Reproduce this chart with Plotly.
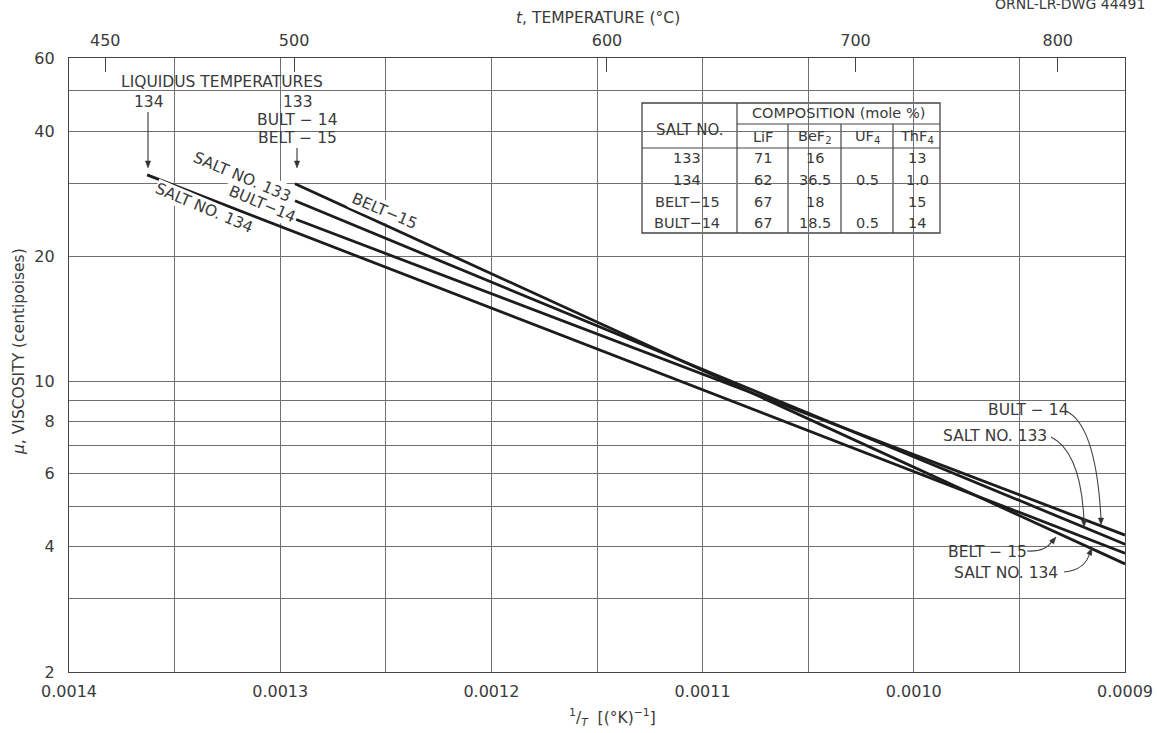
import math
import plotly.graph_objects as go

# ---------------- data ----------------
salt_names = ["SALT NO. 133", "SALT NO. 134", "BELT-15", "BULT-14"]
inv_T_start = [0.001293, 0.001363, 0.001293, 0.001293]   # 1/T (1/K) at liquidus
inv_T_end = [0.0009, 0.0009, 0.0009, 0.0009]
mu_start = [27.2, 31.4, 29.9, 24.6]                     # viscosity, centipoises
mu_end = [4.06, 3.86, 3.64, 4.27]

x_major = [0.0014, 0.0013, 0.0012, 0.0011, 0.0010, 0.0009]
x_major_text = ["0.0014", "0.0013", "0.0012", "0.0011", "0.0010", "0.0009"]
x_half = [0.00135, 0.00125, 0.00115, 0.00105, 0.00095]
y_major = [2, 4, 6, 8, 10, 20, 40, 60]
y_minor = [3, 5, 7, 9, 30, 50]
temp_C = [450, 500, 600, 700, 800]

table_salt = ["133", "134", "BELT−15", "BULT−14"]
table_LiF = ["71", "62", "67", "67"]
table_BeF2 = ["16", "36.5", "18", "18.5"]
table_UF4 = ["", "0.5", "", "0.5"]
table_ThF4 = ["13", "1.0", "15", "14"]

# ---------------- layout helpers ----------------
W, H = 1157, 733
L, R, T, B = 69, 1125, 58, 672
FONT = "DejaVu Sans"
TXT = "#3a3a3a"
GRID = "#707070"
LBL = 15.5


def P(px, py):
    return (px - L) / (R - L), (B - py) / (B - T)


fig = go.Figure()
for i, name in enumerate(salt_names):
    fig.add_trace(go.Scatter(
        x=[inv_T_start[i], inv_T_end[i]], y=[mu_start[i], mu_end[i]],
        mode="lines", name=name, showlegend=False,
        line=dict(color="#1c1c1c", width=2.8), hoverinfo="skip"))

temp_pos = [1.0 / (t + 273.15) for t in temp_C]
fig.add_trace(go.Scatter(x=temp_pos, y=[10] * len(temp_pos), xaxis="x2",
                         mode="markers", marker=dict(opacity=0), showlegend=False,
                         hoverinfo="skip"))

annotations = []
shapes = []


def ann(text, px, py, size=LBL, angle=0, bg=None, xanchor="center", pad=1):
    x, y = P(px, py)
    d = dict(text=text, x=x, y=y, xref="paper", yref="paper", showarrow=False,
             xanchor=xanchor, yanchor="middle", textangle=angle,
             font=dict(family=FONT, size=size, color=TXT))
    if bg:
        d["bgcolor"] = bg
        d["borderpad"] = pad
    annotations.append(d)


def arrow(tip, tail, width=1.1, head=7.0, half=2.6, draw_shaft=True):
    dx, dy = tip[0] - tail[0], tip[1] - tail[1]
    n = math.hypot(dx, dy)
    ux, uy = dx / n, dy / n
    px_, py_ = -uy, ux
    bx, by = tip[0] - head * ux, tip[1] - head * uy
    if draw_shaft:
        a = P(*tail)
        b = P(bx, by)
        shapes.append(dict(type="line", xref="paper", yref="paper",
                           x0=a[0], y0=a[1], x1=b[0], y1=b[1],
                           line=dict(color="#333333", width=width), layer="above"))
    p1 = P(*tip)
    p2 = P(bx + half * px_, by + half * py_)
    p3 = P(bx - half * px_, by - half * py_)
    path = f"M {p1[0]},{p1[1]} L {p2[0]},{p2[1]} L {p3[0]},{p3[1]} Z"
    shapes.append(dict(type="path", xref="paper", yref="paper", path=path,
                       fillcolor="#333333", line=dict(color="#333333", width=0.5),
                       layer="above"))


def white_rect(x0, y0, x1, y1):
    a, b = P(x0, y1)
    c, d = P(x1, y0)
    shapes.append(dict(type="rect", xref="paper", yref="paper", x0=a, y0=b, x1=c, y1=d,
                       fillcolor="white", line=dict(width=0), layer="between"))


def seg(x0, y0, x1, y1, w=1.2):
    a, b = P(x0, y0)
    c, d = P(x1, y1)
    shapes.append(dict(type="line", xref="paper", yref="paper", x0=a, y0=b, x1=c, y1=d,
                       line=dict(color="#444444", width=w), layer="between"))


def curve(p0, pc, p1):
    a = P(*p0)
    b = P(*pc)
    c = P(*p1)
    path = f"M {a[0]},{a[1]} Q {b[0]},{b[1]} {c[0]},{c[1]}"
    shapes.append(dict(type="path", xref="paper", yref="paper", path=path,
                       line=dict(color="#444444", width=1.1), layer="above"))


# gaps in the grid behind the liquidus labels
white_rect(100, 70, 347, 111)
white_rect(232, 111, 350, 150)

ann("LIQUIDUS TEMPERATURES", 222, 82)
ann("134", 149, 102)
ann("133", 298, 102)
ann("BULT − 14", 297, 120)
ann("BELT − 15", 297, 138)
arrow((148, 168), (148, 112))
arrow((297, 168), (297, 148))

# labels along the lines
ann("SALT NO. 133", 242, 177, angle=23, bg="white", pad=2)
ann("BULT−14", 262, 204, angle=23, bg="white", pad=1)
ann("SALT NO. 134", 204, 208, angle=23, bg="white", pad=0)
ann("BELT−15", 384, 211, angle=23, bg="white", pad=1)

# right-hand labels with leaders
white_rect(925, 398, 1080, 446)
white_rect(935, 540, 1070, 584)
ann("BULT − 14", 1028, 410)
ann("SALT NO. 133", 995, 436)
ann("BELT − 15", 987, 552)
ann("SALT NO. 134", 1006, 573)
curve((1066, 411), (1096, 425), (1101, 519))
curve((1051, 437), (1081, 452), (1084, 521))
curve((1027, 551), (1046, 552), (1052, 541))
curve((1064, 572), (1086, 570), (1090, 552))
arrow((1101, 525), (1101, 517), draw_shaft=False)
arrow((1084, 527), (1084, 519), draw_shaft=False)
arrow((1056, 537), (1051, 543), draw_shaft=False)
arrow((1092, 548), (1089, 555), draw_shaft=False)

# composition table
tx0, ty0, tx1, ty1 = 642, 103, 940, 233
a, b = P(tx0, ty1)
c, d = P(tx1, ty0)
shapes.append(dict(type="rect", xref="paper", yref="paper", x0=a, y0=b, x1=c, y1=d,
                   fillcolor="white", line=dict(color="#444444", width=1.3), layer="between"))
seg(737, 124, 940, 124)
seg(642, 148, 940, 148)
seg(737, 103, 737, 233)
for cx in [788, 841, 893]:
    seg(cx, 124, cx, 233)
TB = 14.5
ann("SALT NO.", 689, 130, size=15)
ann("COMPOSITION (mole %)", 838, 113, size=TB)
col_x = [687, 763, 815, 867, 917]
heads = ["LiF", "BeF<sub>2</sub>", "UF<sub>4</sub>", "ThF<sub>4</sub>"]
for hx, h in zip(col_x[1:], heads):
    ann(h, hx, 137, size=TB)
rows_y = [158, 180, 202, 223]
for r in range(4):
    vals = [table_salt[r], table_LiF[r], table_BeF2[r], table_UF4[r], table_ThF4[r]]
    for cx, v in zip(col_x, vals):
        if v:
            ann(v, cx, rows_y[r], size=TB)

# axis titles
ann("<i>t</i>, TEMPERATURE (°C)", 598, 18, size=15.5)
ann("<sup>1</sup>/<sub><i>T</i></sub>  [(°K)<sup>−1</sup>]", 612, 717, size=15.5)
ann("<i>μ</i>, VISCOSITY (centipoises)", 19, 352, size=15.5, angle=-90)
ann("ORNL-LR-DWG 44491", 1070, 4, size=14)

tickfont = dict(family=FONT, size=16, color=TXT)
fig.update_layout(
    width=W, height=H,
    margin=dict(l=L, r=W - R, t=T, b=H - B, pad=0, autoexpand=False),
    paper_bgcolor="white", plot_bgcolor="white",
    showlegend=False,
    xaxis=dict(range=[0.0014, 0.0009], tickmode="array",
               tickvals=x_major, ticktext=x_major_text,
               showgrid=True, gridcolor=GRID, gridwidth=1, zeroline=False,
               showline=True, mirror=True, linecolor="#444444", linewidth=1.4,
               ticks="", tickfont=tickfont, ticklabelstandoff=5, automargin=False,
               minor=dict(tickmode="array", tickvals=x_half, showgrid=True,
                          gridcolor=GRID, gridwidth=1, ticks="")),
    xaxis2=dict(range=[0.0014, 0.0009], overlaying="x", side="top",
                tickmode="array", tickvals=temp_pos, ticktext=[str(t) for t in temp_C],
                ticks="inside", ticklen=14, tickwidth=1.2, tickcolor="#444444",
                showgrid=False, zeroline=False, showline=False, tickfont=tickfont,
                ticklabelstandoff=8, automargin=False),
    yaxis=dict(type="log", range=[math.log10(2), math.log10(60)],
               tickmode="array", tickvals=y_major, ticktext=[str(v) for v in y_major],
               showgrid=True, gridcolor=GRID, gridwidth=1, zeroline=False,
               showline=True, mirror=True, linecolor="#444444", linewidth=1.4,
               ticks="", tickfont=tickfont, ticklabelstandoff=10, automargin=False,
               minor=dict(tickmode="array", tickvals=y_minor, showgrid=True,
                          gridcolor=GRID, gridwidth=1, ticks="")),
    annotations=annotations,
    shapes=shapes,
)

fig.write_html("out.html", config={"displayModeBar": False},
               post_script="document.body.style.margin='0px';document.body.style.overflow='hidden';")
